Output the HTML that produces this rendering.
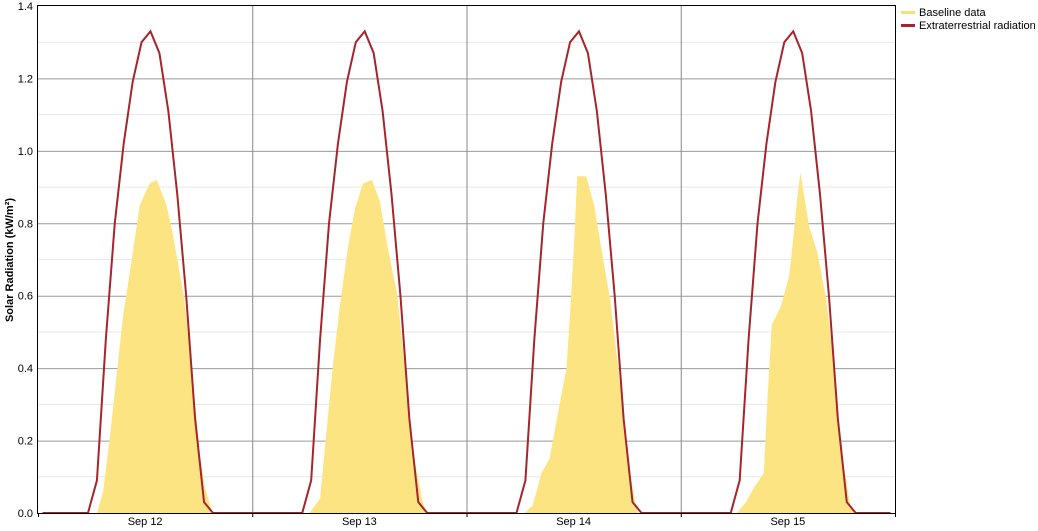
<!DOCTYPE html>
<html><head><meta charset="utf-8"><style>
body{margin:0;background:#fff;width:1038px;height:531px;overflow:hidden}
svg{display:block;font-family:"Liberation Sans",Arial,sans-serif}
</style></head><body>
<svg id="chart" width="1038" height="531" xmlns="http://www.w3.org/2000/svg"></svg>
<script>
// ---- data ----
const dayLabels = ["Sep 12","Sep 13","Sep 14","Sep 15"];
const yTicks = [0,0.2,0.4,0.6,0.8,1.0,1.2,1.4];
const yTickLabels = ["0.0","0.2","0.4","0.6","0.8","1.0","1.2","1.4"];
// extraterrestrial daily profile (hours of day, kW/m2)
const redHours = [5.6,6.6,7.6,8.6,9.6,10.6,11.6,12.6,13.6,14.6,15.6,16.6,17.6,18.6,19.6];
const redValues = [0,0.09,0.48,0.80,1.02,1.19,1.30,1.33,1.27,1.11,0.88,0.60,0.26,0.03,0];
// baseline data per day (hours of day, kW/m2)
const baseHours1 = [6.6,7.3,8.1,9.5,10.5,11.4,12.5,13.3,14.4,15.1,16.4,17.3,18.1,18.7,19.2,19.5];
const baseValues1 = [0,0.06,0.22,0.54,0.70,0.85,0.91,0.92,0.85,0.77,0.59,0.38,0.17,0.07,0.03,0];
const baseHours2 = [6.4,7.6,8.1,9.0,9.8,10.7,11.5,12.4,13.4,14.3,15.2,16.2,17.1,18.0,19.0,19.5];
const baseValues2 = [0,0.04,0.17,0.40,0.57,0.73,0.84,0.91,0.92,0.86,0.73,0.61,0.40,0.17,0.04,0];
const baseHours3 = [6.5,7.4,8.4,9.3,10.2,11.2,11.7,12.1,12.4,13.4,14.3,15.1,16.1,17.0,17.9,18.9,19.2];
const baseValues3 = [0,0.02,0.11,0.15,0.27,0.40,0.59,0.77,0.93,0.93,0.85,0.73,0.59,0.40,0.17,0.03,0];
const baseHours4 = [6.3,7.3,8.2,9.3,9.7,10.2,11.2,12.1,12.4,13.0,13.4,14.4,15.3,16.3,17.2,18.0,19.0,19.4];
const baseValues4 = [0,0.03,0.07,0.11,0.31,0.52,0.57,0.65,0.71,0.86,0.94,0.79,0.72,0.59,0.40,0.17,0.02,0];

// ---- layout ----
const L=38,R=895,T=6,B=513;
const totalHours = 96;
const X = h => L + (R-L)*h/totalHours;
const Y = v => B - (B-T)*v/1.4;
const svg = document.getElementById('chart');
const NS="http://www.w3.org/2000/svg";
function mk(tag, attrs, parent){const e=document.createElementNS(NS,tag);for(const k in attrs)e.setAttribute(k,attrs[k]);(parent||svg).appendChild(e);return e;}

// minor gridlines
for(let v=0.1; v<1.4; v+=0.2){
  const g=mk('line',{x1:L,x2:R,y1:Y(v),y2:Y(v),stroke:'#e8e8e8','stroke-width':1});
  
  
}
// major gridlines + labels
yTicks.forEach((v,i)=>{
  if(v>0 && v<1.4){
    const g=mk('line',{x1:L,x2:R,y1:Y(v)+0.5,y2:Y(v)+0.5,stroke:'#999','stroke-width':1});
    
    
  }
  const t=mk('text',{x:33,y:Y(v)+4,'text-anchor':'end','font-size':11,fill:'#000'});
  t.textContent=yTickLabels[i];
  
  
});
// day gridlines, ticks and labels
for(let d=0; d<=4; d++){
  const x=X(d*24)+0.5;
  if(d>0&&d<4){
    const g=mk('line',{x1:x,x2:x,y1:T,y2:B,stroke:'#888','stroke-width':1});
    
    
  }
  const tk=mk('line',{x1:x,x2:x,y1:B,y2:B+4,stroke:'#000','stroke-width':1});
  
  
}
dayLabels.forEach((lab,d)=>{
  const t=mk('text',{x:X(d*24+12),y:525,'text-anchor':'middle','font-size':11,fill:'#000'});
  t.textContent=lab;
  
  
});

// baseline areas
const bases=[[baseHours1,baseValues1],[baseHours2,baseValues2],[baseHours3,baseValues3],[baseHours4,baseValues4]];
bases.forEach(([hs,vs],d)=>{
  let p='M'+X(d*24+hs[0])+','+Y(0);
  hs.forEach((h,i)=>{p+=' L'+X(d*24+h)+','+Y(vs[i]);});
  p+=' L'+X(d*24+hs[hs.length-1])+','+Y(0)+'Z';
  const a=mk('path',{d:p,fill:'#fde483',stroke:'none'});
  
  
});

// extraterrestrial line
let pts=[[X(0.5),Y(0)]];
for(let d=0; d<4; d++){
  redHours.forEach((h,i)=>pts.push([X(d*24+h),Y(redValues[i])]));
}
pts.push([X(95.5),Y(0)]);
const ln=mk('polyline',{points:pts.map(p=>p.join(',')).join(' '),fill:'none',stroke:'#a4262c','stroke-width':2,'stroke-linejoin':'miter'});



// frame
const fr=mk('rect',{x:37.5,y:5.5,width:R-37,height:B-5,fill:'none',stroke:'#000','stroke-width':1});



// y axis title
const yt=mk('text',{x:0,y:0,transform:'translate(13,260) rotate(-90)','text-anchor':'middle','font-size':11,'font-weight':'bold',fill:'#000'});
yt.textContent='Solar Radiation (kW/m²)';



// legend
const lg=mk('g',{});


const l1=mk('line',{x1:901,x2:915,y1:12.5,y2:12.5,stroke:'#f3e27a','stroke-width':3},lg);


const t1=mk('text',{x:919,y:16,'font-size':11,fill:'#000'},lg);
t1.textContent='Baseline data';


const l2=mk('line',{x1:901,x2:915,y1:25.5,y2:25.5,stroke:'#a4262c','stroke-width':3},lg);


const t2=mk('text',{x:919,y:29,'font-size':11,fill:'#000'},lg);
t2.textContent='Extraterrestrial radiation';


</script>
</body></html>
